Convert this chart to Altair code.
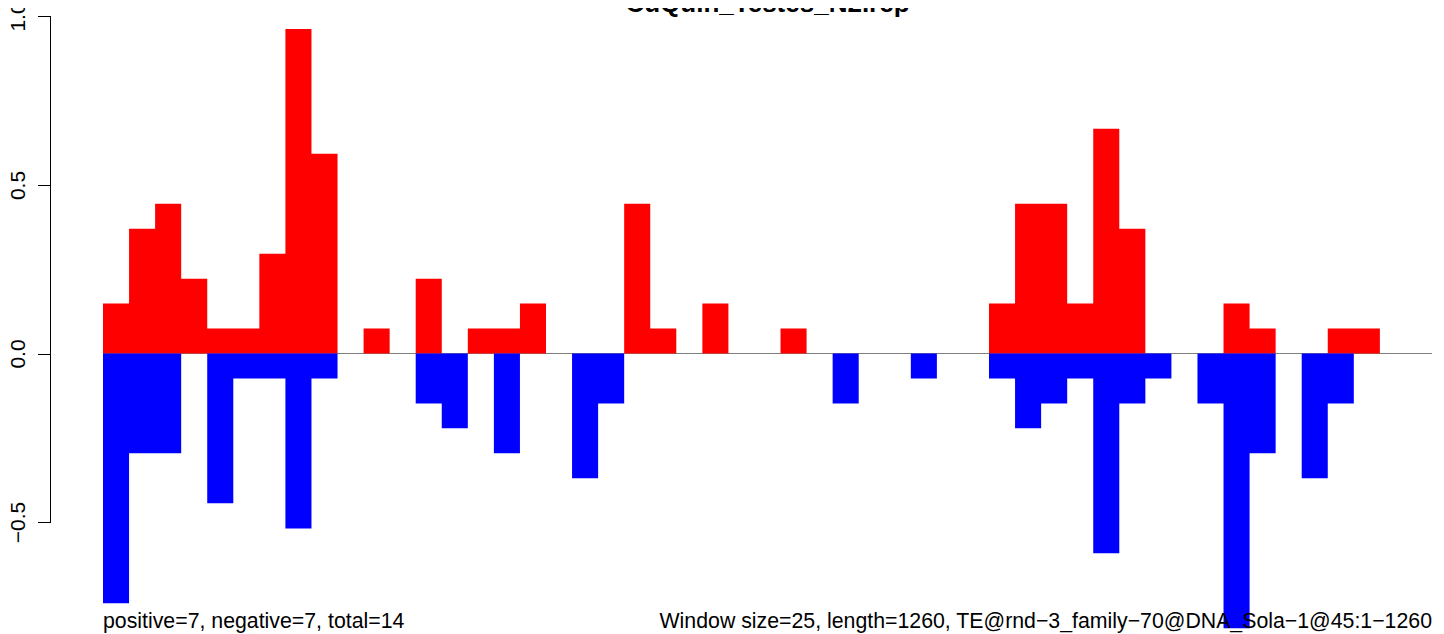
import altair as alt
import pandas as pd

# ---- data ----
title_text = "CuQuin_Testes_N2.rep"
left_note = "positive=7, negative=7, total=14"
right_note = "Window size=25, length=1260, TE@rnd\u22123_family\u221270@DNA_Sola\u22121@45:1\u22121260"

window_index = list(range(51))
positive = [0.148, 0.370, 0.444, 0.222, 0.074, 0.074, 0.296, 0.963, 0.593, 0.0,
            0.074, 0.0, 0.222, 0.0, 0.074, 0.074, 0.148, 0.0, 0.0, 0.0,
            0.444, 0.074, 0.0, 0.148, 0.0, 0.0, 0.074, 0.0, 0.0, 0.0,
            0.0, 0.0, 0.0, 0.0, 0.148, 0.444, 0.444, 0.148, 0.667, 0.370,
            0.0, 0.0, 0.0, 0.148, 0.074, 0.0, 0.0, 0.074, 0.074, 0.0,
            0.0]
negative = [-0.741, -0.296, -0.296, 0.0, -0.444, -0.074, -0.074, -0.519, -0.074, 0.0,
            0.0, 0.0, -0.148, -0.222, 0.0, -0.296, 0.0, 0.0, -0.370, -0.148,
            0.0, 0.0, 0.0, 0.0, 0.0, 0.0, 0.0, 0.0, -0.148, 0.0,
            0.0, -0.074, 0.0, 0.0, -0.074, -0.222, -0.148, -0.074, -0.593, -0.148,
            -0.074, 0.0, -0.148, -0.815, -0.296, 0.0, -0.370, -0.148, 0.0, 0.0,
            0.0]
y_ticks = [-0.5, 0.0, 0.5, 1.0]

assert len(positive) == len(window_index) == len(negative)

n_windows = len(window_index)
# step outline: each window holds its value from its start to the next window's start;
# the closing point marks the end of the last window
df = pd.DataFrame({
    "start": window_index + [n_windows],
    "pos": positive + [0.0],
    "neg": negative + [0.0],
    "base": [0.0] * (n_windows + 1),
})

xs = alt.Scale(domain=[0, n_windows], nice=False, zero=False)
ys = alt.Scale(domain=[-0.83234, 1.02522], nice=False, zero=False)

FONT = "Liberation Sans"

zero_line = alt.Chart(pd.DataFrame({"a": [0]})).mark_rule(color="#808080", strokeWidth=1).encode(
    x=alt.datum(0, scale=xs, axis=None),
    x2=alt.datum(n_windows),
    y=alt.datum(0, scale=ys),
)

red = alt.Chart(df).mark_area(color="#FF0000", interpolate="step-after", opacity=1).encode(
    x=alt.X("start:Q", scale=xs, axis=None),
    y=alt.Y("pos:Q", scale=ys, title=None,
            axis=alt.Axis(values=y_ticks, format=".1f", domain=False, grid=False,
                          ticks=True, tickSize=13, tickColor="black", tickWidth=1,
                          labelAngle=270, labelAlign="center", labelBaseline="alphabetic",
                          labelPadding=13.5, labelFont=FONT, labelFontSize=21,
                          labelColor="black", offset=52.5, labelOverlap=False,
                          labelFlush=False)),
    y2="base:Q",
)

blue = alt.Chart(df).mark_area(color="#0000FF", interpolate="step-after", opacity=1).encode(
    x=alt.X("start:Q", scale=xs, axis=None),
    y=alt.Y("neg:Q", scale=ys),
    y2="base:Q",
)

axis_line = alt.Chart(pd.DataFrame({"a": [0]})).mark_rule(color="black", strokeWidth=1).encode(
    x=alt.value(-52.5),
    y=alt.datum(1.0, scale=ys),
    y2=alt.datum(-0.5),
)

title = alt.Chart(pd.DataFrame({"a": [0]})).mark_text(
    text=title_text, font=FONT, fontWeight="bold", fontSize=26,
    align="center", baseline="alphabetic", color="black"
).encode(x=alt.datum(n_windows / 2, scale=xs), y=alt.value(4))

left = alt.Chart(pd.DataFrame({"a": [0]})).mark_text(
    text=left_note, font=FONT, fontSize=21.3, align="left", baseline="alphabetic", color="black"
).encode(x=alt.datum(0, scale=xs), y=alt.value(620.3))

right = alt.Chart(pd.DataFrame({"a": [0]})).mark_text(
    text=right_note, font=FONT, fontSize=21.3, align="right", baseline="alphabetic", color="black"
).encode(x=alt.datum(n_windows, scale=xs), y=alt.value(620.3))

chart = alt.layer(zero_line, red, blue, axis_line, title, left, right).properties(
    width=1329, height=626,
    padding={"left": 95, "top": 0, "right": 4, "bottom": 0},
    autosize=alt.AutoSizeParams(type="none"),
    background="white",
).configure_view(strokeWidth=0, stroke="transparent")

chart.save("out.html", embed_options={"renderer": "svg", "actions": False})
